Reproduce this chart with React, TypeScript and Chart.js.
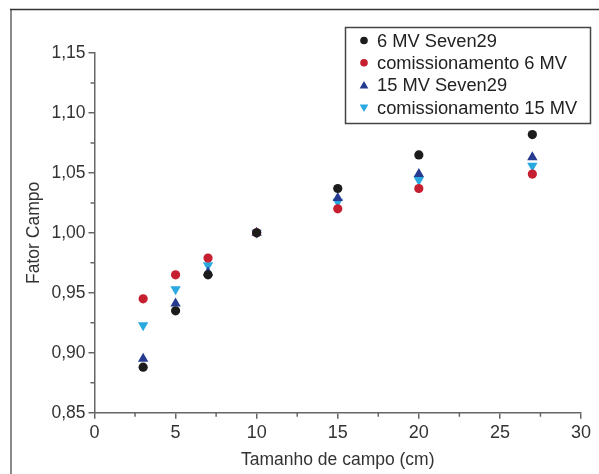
import React, { useEffect, useRef } from 'react';
import { Chart, registerables } from 'chart.js';

Chart.register(...registerables);

const fieldSizes = [3, 5, 7, 10, 15, 20, 27];
const seven29_6MV = [0.888, 0.935, 0.965, 1.0, 1.037, 1.065, 1.082];
const commissioning6MV = [0.945, 0.965, 0.979, 1.0, 1.02, 1.037, 1.049];
const seven29_15MV = [0.895, 0.941, 0.967, 1.0, 1.029, 1.049, 1.063];
const commissioning15MV = [0.923, 0.953, 0.973, 1.0, 1.026, 1.044, 1.056];
const seriesLabels = ['6 MV Seven29', 'comissionamento 6 MV', '15 MV Seven29', 'comissionamento 15 MV'];
const xMinorTicks = [2.5, 7.5, 12.5, 17.5, 22.5, 27.5];
const yMinorTicks = [0.875, 0.925, 0.975, 1.025, 1.075, 1.125];
const xTitle = 'Tamanho de campo (cm)';
const yTitle = 'Fator Campo';

const FONT = "'Liberation Sans', Arial, sans-serif";
const TEXT = '#333333';
const AXIS = '#666666';

const colors = ['#1c1c1c', '#c61f2f', '#263a8f', '#2aa9e0'];
const styles: any[] = ['circle', 'circle', 'triangle', 'triangle'];
const rotations = [0, 0, 0, 180];
const radii = [4.6, 4.6, 6, 6];

const decorPlugin = {
  id: 'decor',
  beforeDraw(chart: any) {
    const ctx = chart.ctx;
    ctx.save();
    ctx.fillStyle = '#ffffff';
    ctx.fillRect(0, 0, chart.width, chart.height);
    ctx.strokeStyle = '#8a8a8a';
    ctx.lineWidth = 2;
    ctx.beginPath();
    ctx.moveTo(11, 9);
    ctx.lineTo(11, chart.height);
    ctx.stroke();
    ctx.strokeStyle = '#333333';
    ctx.lineWidth = 1.5;
    ctx.beginPath();
    ctx.moveTo(10, 9.5);
    ctx.lineTo(chart.width, 9.5);
    ctx.stroke();
    ctx.restore();
  },
  afterDraw(chart: any) {
    const ctx = chart.ctx;
    const x = chart.scales.x;
    const y = chart.scales.y;
    ctx.save();
    ctx.strokeStyle = AXIS;
    ctx.lineWidth = 1.5;
    ctx.beginPath();
    for (const v of xMinorTicks) {
      const px = x.getPixelForValue(v);
      ctx.moveTo(px, chart.chartArea.bottom);
      ctx.lineTo(px, chart.chartArea.bottom + 4);
    }
    for (const v of yMinorTicks) {
      const py = y.getPixelForValue(v);
      ctx.moveTo(chart.chartArea.left, py);
      ctx.lineTo(chart.chartArea.left - 4, py);
    }
    ctx.stroke();

    // legend
    const bx = 345.5, by = 27.5, bw = 245, bh = 96;
    ctx.fillStyle = '#ffffff';
    ctx.fillRect(bx, by, bw, bh);
    ctx.strokeStyle = '#444444';
    ctx.lineWidth = 1.5;
    ctx.strokeRect(bx, by, bw, bh);
    const rows = [40.5, 62.8, 85.2, 107.5];
    chart.data.datasets.forEach((ds: any, i: number) => {
      const cy = rows[i];
      const cx = 364;
      ctx.fillStyle = ds.backgroundColor;
      ctx.beginPath();
      if (ds.pointStyle === 'circle') {
        ctx.arc(cx, cy, 3.8, 0, Math.PI * 2);
      } else {
        const r = 5;
        const rot = (ds.pointRotation || 0) * Math.PI / 180;
        for (let k = 0; k < 3; k++) {
          const a = rot + k * 2 * Math.PI / 3;
          const px = cx + Math.sin(a) * r;
          const py = cy - Math.cos(a) * r + (rot ? -0.5 : 0.8);
          if (k === 0) ctx.moveTo(px, py); else ctx.lineTo(px, py);
        }
        ctx.closePath();
      }
      ctx.fill();
      ctx.fillStyle = '#222222';
      ctx.font = `18.3px ${FONT}`;
      ctx.textBaseline = 'middle';
      ctx.textAlign = 'left';
      ctx.fillText(ds.label, 377, cy + 1);
    });
    ctx.restore();
  },
};

export default function App() {
  const ref = useRef<HTMLCanvasElement | null>(null);
  useEffect(() => {
    if (!ref.current) return;
    const series = [seven29_6MV, commissioning6MV, seven29_15MV, commissioning15MV];
    const chart = new Chart(ref.current, {
      type: 'scatter',
      data: {
        datasets: series.map((vals, i) => ({
          label: seriesLabels[i],
          data: fieldSizes.map((fs, j) => ({ x: fs, y: vals[j] })),
          backgroundColor: colors[i],
          borderColor: colors[i],
          borderWidth: 0,
          pointStyle: styles[i],
          pointRotation: rotations[i],
          pointRadius: radii[i],
          pointHoverRadius: radii[i],
        })),
      },
      options: {
        responsive: false,
        animation: false,
        devicePixelRatio: 1,
        layout: { padding: { left: 0, right: 18, top: 53, bottom: 0 } },
        plugins: { legend: { display: false }, tooltip: { enabled: false } },
        scales: {
          x: {
            type: 'linear',
            min: 0,
            max: 30,
            afterFit: (s: any) => { s.height = 61.3; },
            ticks: {
              stepSize: 5,
              color: TEXT,
              padding: 4,
              font: { family: FONT, size: 18 },
            },
            grid: { drawOnChartArea: false, drawTicks: true, tickLength: 6, color: AXIS, lineWidth: 1.5 },
            border: { color: AXIS, width: 1.5 },
            title: {
              display: true,
              text: xTitle,
              color: TEXT,
              font: { family: FONT, size: 17.5 },
              padding: { top: 0, bottom: 3 },
            },
          },
          y: {
            type: 'linear',
            min: 0.85,
            max: 1.15,
            afterFit: (s: any) => { s.width = 94.5; },
            ticks: {
              stepSize: 0.05,
              color: TEXT,
              padding: 3,
              font: { family: FONT, size: 17.5 },
              callback: (v: any) => Number(v).toFixed(2).replace('.', ','),
            },
            grid: { drawOnChartArea: false, drawTicks: true, tickLength: 6, color: AXIS, lineWidth: 1.5 },
            border: { color: AXIS, width: 1.5 },
            title: {
              display: true,
              text: yTitle,
              color: TEXT,
              font: { family: FONT, size: 17.5 },
              padding: { top: 24, bottom: 0 },
            },
          },
        },
      },
      plugins: [decorPlugin],
    });
    return () => chart.destroy();
  }, []);
  return (
    <div style={{ position: 'absolute', left: 0, top: 0, width: 599, height: 474 }}>
      <canvas ref={ref} width={599} height={474} />
    </div>
  );
}
